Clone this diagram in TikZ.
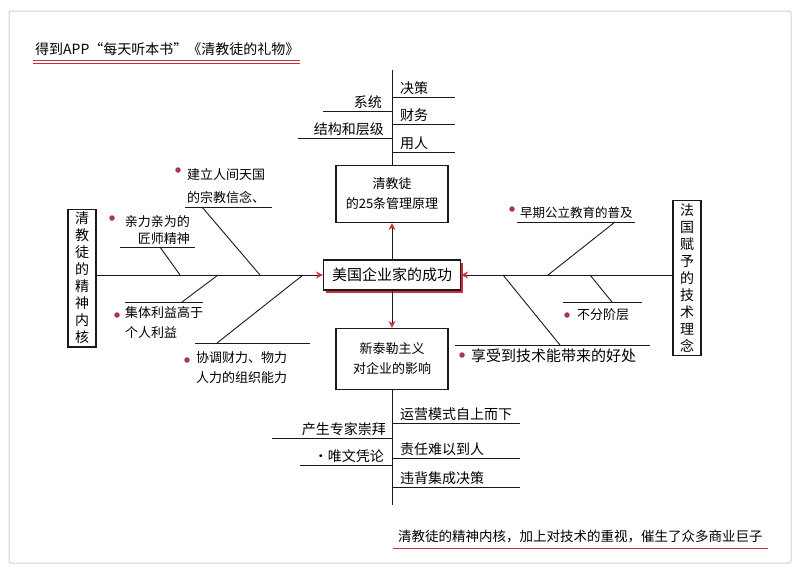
\documentclass[tikz,border=0pt]{standalone}
\usepackage{fontspec}
\setmainfont{Noto Sans CJK SC}
\usetikzlibrary{arrows.meta,positioning,shadows}
\definecolor{ink}{RGB}{25,25,25}
\definecolor{marker}{RGB}{205,45,60}
\definecolor{dot}{RGB}{170,55,75}
\definecolor{paper}{RGB}{210,210,210}
\tikzstyle{bone} = [
    line width=0.9pt,
    draw=ink
]
\tikzstyle{arrow} = [
    bone,
    -{Stealth[color=marker,length=7pt,width=7pt]}
]
\tikzstyle{card} = [
    rectangle,
    draw=ink,
    line width=1.1pt,
    fill=white,
    align=center,
    minimum width=112pt,
    inner sep=3pt,
    font=\fontsize{13}{20}\selectfont
]
\tikzstyle{core} = [
    card,
    minimum width=137pt,
    minimum height=30pt,
    font=\fontsize{15}{18}\selectfont,
    drop shadow={fill=marker,shadow xshift=2.5pt,shadow yshift=-2.5pt,opacity=1}
]
\tikzstyle{pillar} = [
    rectangle,
    draw=ink,
    line width=1.1pt,
    fill=white,
    align=center,
    minimum width=28pt,
    inner sep=3pt,
    font=\fontsize{14}{17}\selectfont
]
\tikzstyle{tag} = [
    inner sep=2pt,
    font=\fontsize{14}{17}\selectfont
]
\tikzstyle{item} = [
    inner sep=1pt,
    align=left,
    font=\fontsize{13}{20}\selectfont
]
\tikzstyle{bullet} = [
    circle,
    fill=dot,
    inner sep=0pt,
    minimum size=5.5pt
]

\begin{document}
\begin{tikzpicture}[x=1pt,y=-1pt]
    \useasboundingbox (0,0) rectangle (800,574);
    \draw[paper, line width=1pt, rounded corners=2pt] (9,11) rectangle (791,563);

    % title
    \node[anchor=south west, inner sep=1pt, font=\fontsize{14}{17}\selectfont] (title) at (34,57) {得到APP“每天听本书”《清教徒的礼物》};
    \draw[marker, line width=0.8pt] (33,60) -- (300,60);
    \draw[marker, line width=0.8pt] (33,63) -- (300,63);

    % main frame
    \node[core] (success) at (392,275) {美国企业家的成功};
    \node[card, minimum height=57pt] (rules) at (392,194) {清教徒\\的25条管理原理};
    \node[card, minimum height=61pt] (taylor) at (392,359) {新泰勒主义\\对企业的影响};
    \node[pillar] (kernel) at (82,278) {清\\教\\徒\\的\\精\\神\\内\\核};
    \node[pillar] (techno) at (687,278) {法\\国\\赋\\予\\的\\技\\术\\理\\念};
    \coordinate (spineT) at (392,70);
    \coordinate (spineB) at (392,505);

    \draw[bone] (spineT) -- (rules.north);
    \draw[arrow] (success.north) -- (rules.south);
    \draw[arrow] (success.south) -- (taylor.north);
    \draw[bone] (taylor.south) -- (spineB);
    \draw[arrow] (kernel.east |- success.west) -- (success.west);
    \draw[arrow] (techno.west |- success.east) -- (success.east);

    % top ribs
    \node[tag, anchor=south west] (decide) at (398,97) {决策};
    \node[tag, anchor=south west] (money) at (398,124) {财务};
    \node[tag, anchor=south west] (staff) at (398,152) {用人};
    \node[tag, anchor=south east] (system) at (384,111) {系统};
    \node[tag, anchor=south east] (layers) at (386,138) {结构和层级};
    \draw[bone] (decide.south -| spineT) -- ++(63,0);
    \draw[bone] (money.south -| spineT) -- ++(63,0);
    \draw[bone] (staff.south -| spineT) -- ++(63,0);
    \draw[bone] (system.south -| spineT) -- ++(-69,0);
    \draw[bone] (layers.south -| spineT) -- ++(-94,0);

    % bottom ribs
    \node[tag, anchor=south west] (topdown) at (398,423) {运营模式自上而下};
    \node[tag, anchor=south west] (blame) at (398,458) {责任难以到人};
    \node[tag, anchor=south west] (against) at (398,487) {违背集成决策};
    \node[tag, anchor=south east] (expert) at (388,438) {产生专家崇拜};
    \node[tag, anchor=south east] (diploma) at (386,465) {·唯文凭论};
    \draw[bone] (topdown.south -| spineB) -- ++(128,0);
    \draw[bone] (blame.south -| spineB) -- ++(128,0);
    \draw[bone] (against.south -| spineB) -- ++(128,0);
    \draw[bone] (expert.south -| spineB) -- ++(-120,0);
    \draw[bone] (diploma.south -| spineB) -- ++(-92,0);

    % left fish
    \node[item, anchor=south west] (heaven) at (186,205) {建立人间天国\\[3pt]的宗教信念、};
    \node[bullet] (dotA) at (178,170) {};
    \draw[bone] (185,207) -- (272,207);
    \draw[bone] (202,207) -- (260,275);

    \node[item, anchor=south east, align=right, font=\fontsize{13}{17}\selectfont] (hands) at (191,246) {亲力亲为的\\匠师精神};
    \node[bullet] (dotB) at (112,218) {};
    \draw[bone] (120,247) -- (195,247);
    \draw[bone] (160,247) -- (180,275);

    \node[item, anchor=north west] (group) at (124,305) {集体利益高于\\个人利益};
    \node[bullet] (dotC) at (117,315) {};
    \draw[bone] (125,302) -- (203,302);
    \draw[bone] (182,302) -- (218,275);

    \node[item, anchor=north west] (coord) at (195,350) {协调财力、物力\\人力的组织能力};
    \node[bullet] (dotD) at (187,360) {};
    \draw[bone] (195,343) -- (310,343);
    \draw[bone] (217,343) -- (303,275);

    % right fish
    \node[item, anchor=south west, font=\fontsize{12.5}{16}\selectfont] (school) at (519,220) {早期公立教育的普及};
    \node[bullet] (dotE) at (512,209) {};
    \draw[bone] (517,222) -- (635,222);
    \draw[bone] (615,222) -- (548,275);

    \node[item, anchor=west] (class) at (576,315) {不分阶层};
    \node[bullet] (dotF) at (567,315) {};
    \draw[bone] (563,302) -- (642,302);
    \draw[bone] (590,275) -- (612,302);

    \node[item, anchor=west, font=\fontsize{15}{18}\selectfont] (benefit) at (470,356) {享受到技术能带来的好处};
    \node[bullet] (dotG) at (462,355) {};
    \draw[bone] (455,345) -- (650,345);
    \draw[bone] (503,275) -- (560,345);

    % closing note
    \node[anchor=south west, inner sep=1pt, font=\fontsize{13.5}{16}\selectfont] (note) at (397,544) {清教徒的精神内核，加上对技术的重视，催生了众多商业巨子};
    \draw[marker, line width=0.8pt] (393,548) -- (768,548);
\end{tikzpicture}
\end{document}
